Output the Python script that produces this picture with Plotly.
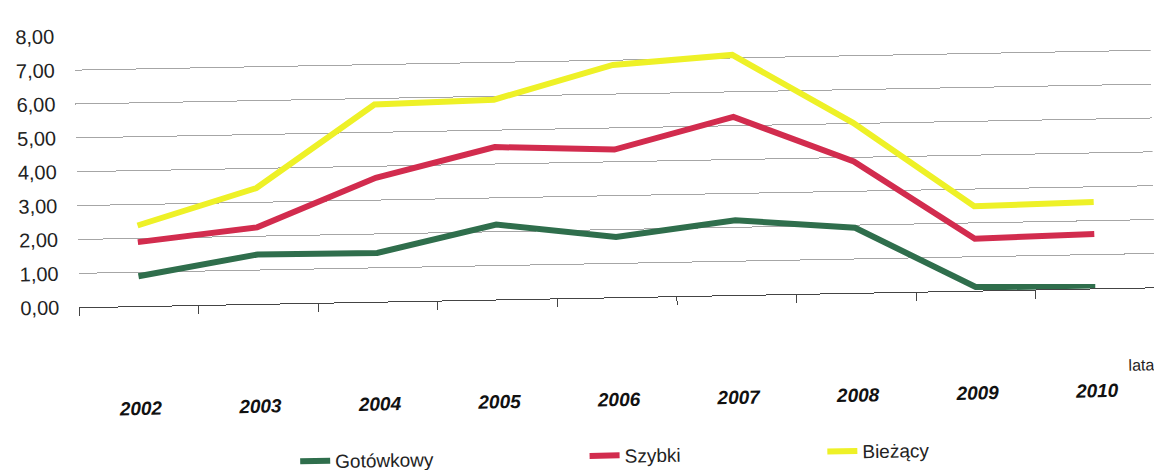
import plotly.graph_objects as go

# Lata i wartości trzech serii
lata = ["2002", "2003", "2004", "2005", "2006", "2007", "2008", "2009", "2010"]
gotowkowy = [0.88, 1.46, 1.44, 2.21, 1.78, 2.21, 1.92, 0.11, 0.04]
szybki = [1.89, 2.26, 3.66, 4.50, 4.36, 5.26, 3.88, 1.53, 1.61]
biezacy = [2.38, 3.42, 5.82, 5.90, 6.86, 7.09, 5.02, 2.49, 2.55]

y_ticks = [0, 1, 2, 3, 4, 5, 6, 7, 8]

series = [
    ("Gotówkowy", gotowkowy, "#2f6e4c", "legend"),
    ("Szybki", szybki, "#d22c4e", "legend2"),
    ("Bieżący", biezacy, "#eef127", "legend3"),
]

fig = go.Figure()
for name, values, color, leg in series:
    fig.add_trace(go.Scatter(
        x=lata, y=values, name=name, mode="lines",
        line=dict(color=color, width=6),
        legend=leg,
    ))

legend_font = dict(family="Liberation Sans, Arial, sans-serif", size=19, color="#222")
legend_common = dict(
    orientation="h", yanchor="middle", y=-0.584, xanchor="left",
    font=legend_font, bgcolor="rgba(0,0,0,0)", itemwidth=30,
)

fig.update_layout(
    width=1154, height=480,
    margin=dict(l=78, r=0, t=27, b=181.5),
    paper_bgcolor="white", plot_bgcolor="white",
    separators=", ",
    showlegend=True,
    legend=dict(x=0.198, **legend_common),
    legend2=dict(x=0.467, **legend_common),
    legend3=dict(x=0.688, **legend_common),
    xaxis=dict(
        type="category", range=[-0.5, 8.5],
        showgrid=False, showline=True, linecolor="#444", linewidth=1.2,
        ticks="outside", tickson="boundaries", ticklen=8, tickcolor="#444",
        ticklabelstandoff=85,
        tickfont=dict(family="Liberation Sans, Arial, sans-serif", size=19,
                      color="#111", weight="bold", style="italic"),
        zeroline=False,
    ),
    yaxis=dict(
        range=[0, 8], tickvals=y_ticks, tickformat=".2f",
        showgrid=True, gridcolor="#a6a6a6", gridwidth=1.2,
        zeroline=False, showline=False, ticks="",
        ticklabelstandoff=19,
        tickfont=dict(family="Liberation Sans, Arial, sans-serif", size=20, color="#222"),
    ),
    annotations=[
        dict(text="lata", xref="paper", yref="paper", x=1.0, y=-0.287,
             xanchor="right", yanchor="middle", showarrow=False,
             font=dict(family="Liberation Sans, Arial, sans-serif", size=16, color="#222")),
    ],
)

# Lekki obrót całego wykresu, tak jak na skanie
rotate_js = (
    "var d=document.getElementById('{plot_id}');"
    "d.style.transformOrigin='577px 235px';"
    "d.style.transform='rotate(-1.06deg)';"
    "document.body.style.overflow='hidden';"
    "document.body.style.margin='0';"
)

fig.write_html("out.html", post_script=rotate_js)
